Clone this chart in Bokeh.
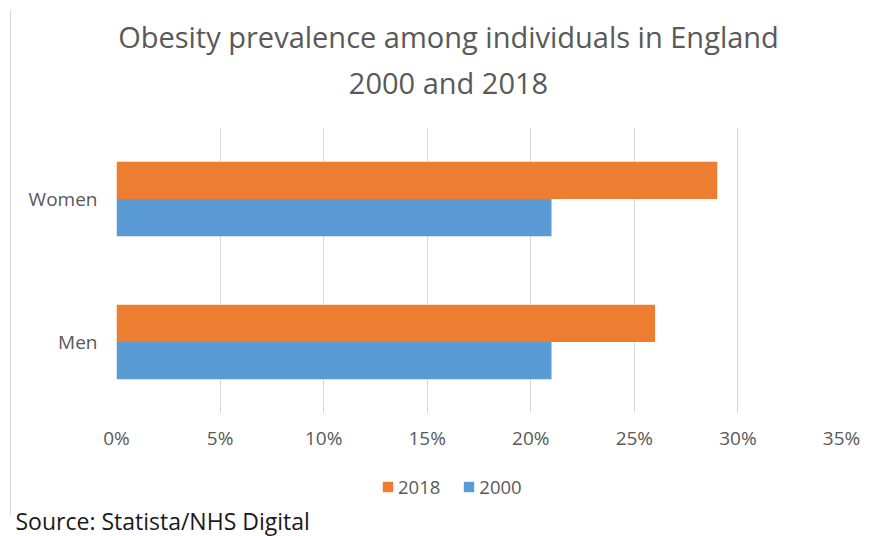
from bokeh.plotting import figure
from bokeh.layouts import column
from bokeh.models import (ColumnDataSource, FactorRange, Range1d, NumeralTickFormatter,
                          FixedTicker, Label, Legend, LegendItem, InlineStyleSheet, Title)
from bokeh.transform import dodge
from bokeh.embed import file_html
from bokeh.resources import INLINE

# ---- data ----
groups = ["Men", "Women"]
values_2018 = [0.26, 0.29]
values_2000 = [0.21, 0.21]
x_ticks = [0, 0.05, 0.10, 0.15, 0.20, 0.25, 0.30, 0.35]
years = ["2018", "2000"]
title_lines = ["Obesity prevalence among individuals in England", "2000 and 2018"]
source_text = "Source: Statista/NHS Digital"

ORANGE = "#ED7D31"
BLUE = "#5B9BD5"
GREY_TEXT = "#595959"
FONT = "Open Sans"
W = 877

# ---------- title strip ----------
top = figure(width=W, height=110, output_backend="svg", toolbar_location=None,
             x_axis_location=None, y_axis_location=None, min_border=0, title=None,
             x_range=Range1d(0, 1), y_range=Range1d(0, 1))
top.outline_line_color = None
top.xgrid.grid_line_color = None
top.ygrid.grid_line_color = None
for txt, yy in zip(title_lines, [74, 28]):
    top.add_layout(Label(x=332, y=yy, x_units="screen", y_units="screen", text=txt,
                         text_align="center", text_baseline="alphabetic",
                         text_font=FONT, text_font_size="29px", text_color=GREY_TEXT))

# ---------- main chart ----------
src = ColumnDataSource(dict(group=groups, v2018=values_2018, v2000=values_2000))

p = figure(width=W, height=350, output_backend="svg", toolbar_location=None, title=None,
           y_range=FactorRange(factors=groups), x_range=Range1d(0, 0.35),
           min_border_left=116, min_border_right=36, min_border_top=17, min_border_bottom=47)
p.outline_line_color = None
p.background_fill_color = "white"
p.border_fill_color = "white"

r18 = p.hbar(y=dodge("group", 0.13, range=p.y_range), right="v2018", left=0, height=0.26,
             source=src, fill_color=ORANGE, line_color=None)
r00 = p.hbar(y=dodge("group", -0.13, range=p.y_range), right="v2000", left=0, height=0.26,
             source=src, fill_color=BLUE, line_color=None)

p.xaxis.ticker = FixedTicker(ticks=x_ticks)
p.xaxis.formatter = NumeralTickFormatter(format="0%")
p.xaxis.axis_line_color = None
p.xaxis.major_tick_line_color = None
p.xaxis.minor_tick_line_color = None
p.xaxis.major_tick_out = 0
p.xaxis.major_tick_in = 0
p.xaxis.major_label_standoff = 11
p.xaxis.major_label_text_font = FONT
p.xaxis.major_label_text_font_size = "19px"
p.xaxis.major_label_text_color = GREY_TEXT

p.yaxis.axis_line_color = None
p.yaxis.major_tick_line_color = None
p.yaxis.minor_tick_line_color = None
p.yaxis.major_tick_out = 0
p.yaxis.major_tick_in = 0
p.yaxis.major_label_standoff = 19
p.yaxis.major_label_text_font = FONT
p.yaxis.major_label_text_font_size = "19px"
p.yaxis.major_label_text_color = GREY_TEXT

p.xgrid.grid_line_color = "#D9D9D9"
p.xgrid.grid_line_width = 1
p.ygrid.grid_line_color = None

# ---------- legend + source strip ----------
bottom = figure(width=W, height=76, output_backend="svg", toolbar_location=None,
                x_axis_location=None, y_axis_location=None, min_border=0, title=None,
                x_range=Range1d(0, 1), y_range=Range1d(0, 1))
bottom.outline_line_color = None
bottom.xgrid.grid_line_color = None
bottom.ygrid.grid_line_color = None
# zero-width proxy bars: they only give the legend its colour swatches
lsrc = ColumnDataSource(dict(y=[0.5], right=[0.0]))
lr18 = bottom.hbar(y="y", right="right", left=0, height=0.1, source=lsrc,
                   fill_color=ORANGE, line_color=None)
lr00 = bottom.hbar(y="y", right="right", left=0, height=0.1, source=lsrc,
                   fill_color=BLUE, line_color=None)

legend = Legend(items=[LegendItem(label=years[0], renderers=[lr18]),
                       LegendItem(label=years[1], renderers=[lr00])],
                orientation="horizontal", location=(265, 3),
                glyph_width=13, glyph_height=13, label_height=18, label_standoff=4,
                spacing=22, padding=0, margin=0,
                border_line_color=None, background_fill_alpha=0,
                label_text_font=FONT, label_text_font_size="18.5px",
                label_text_color=GREY_TEXT)
bottom.add_layout(legend, "center")

bottom.add_layout(Title(text=source_text, align="left", offset=-101, standoff=0,
                        text_font=FONT, text_font_size="23px", text_font_style="normal",
                        text_color="#1a1a1a"), "below")

layout = column(top, p, bottom, spacing=0)
layout.stylesheets = [InlineStyleSheet(css=""":host { position: relative; }
:host::after { content: ""; position: absolute; left: 10px; top: 10px; width: 1px;
  height: 505px; background: #D9D9D9; z-index: 10; pointer-events: none; }""")]

open("out.html", "w").write(file_html(layout, INLINE))
